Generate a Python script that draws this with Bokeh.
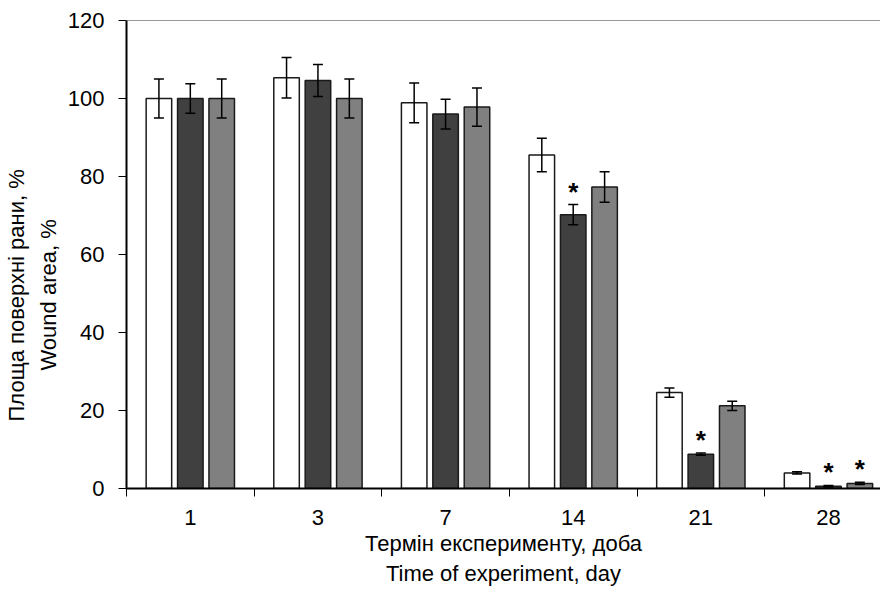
from bokeh.plotting import figure
from bokeh.models import ColumnDataSource, FixedTicker, Whisker, TeeHead, Span, Title
from bokeh.embed import file_html
from bokeh.resources import INLINE
from bokeh.core.properties import value

days = ["1", "3", "7", "14", "21", "28"]
vals_a = [100.0, 105.3, 98.9, 85.5, 24.6, 4.0]
vals_b = [100.0, 104.6, 96.0, 70.2, 8.8, 0.6]
vals_c = [100.0, 100.0, 97.8, 77.3, 21.2, 1.3]
err_a = [5.0, 5.2, 5.1, 4.3, 1.2, 0.3]
err_b = [3.8, 4.1, 3.8, 2.6, 0.3, 0.2]
err_c = [5.0, 5.0, 4.9, 3.9, 1.2, 0.3]
sig_b = [False, False, False, True, True, True]
sig_c = [False, False, False, False, False, True]
yticks = [0, 20, 40, 60, 80, 100, 120]
y_title_1 = "Площа поверхні рани, %"
y_title_2 = "Wound area, %"
x_title = "Термін експерименту, доба\nTime of experiment, day"

FONT = "Liberation Sans"
FS = "22px"
fills = ["#ffffff", "#404040", "#808080"]
offsets = [-0.246, 0.0, 0.246]
n = len(days)
x_end = 768 / 130.0

p = figure(width=880, height=588, output_backend="svg", toolbar_location=None,
           x_range=(0, x_end), y_range=(0, 120),
           min_border_left=126, min_border_right=0, min_border_top=20, min_border_bottom=99)
p.outline_line_color = None
p.grid.visible = False
p.background_fill_color = "white"
p.border_fill_color = "white"

for vals, errs, sig, fill, off in zip([vals_a, vals_b, vals_c], [err_a, err_b, err_c],
                                      [[False]*n, sig_b, sig_c], fills, offsets):
    xs = [i + 0.5 + off for i in range(n)]
    src = ColumnDataSource(dict(x=xs, top=vals,
                                upper=[v + e for v, e in zip(vals, errs)],
                                lower=[v - e for v, e in zip(vals, errs)]))
    p.vbar(x="x", top="top", bottom=0, width=0.2, source=src,
           fill_color=fill, line_color="#1a1a1a", line_width=1.5)
    w = Whisker(source=src, base="x", upper="upper", lower="lower", dimension="height",
                line_color="black", line_width=1.5, level="overlay",
                upper_head=TeeHead(size=10, line_color="black", line_width=1.5),
                lower_head=TeeHead(size=10, line_color="black", line_width=1.5))
    p.add_layout(w)
    sx = [x for x, s in zip(xs, sig) if s]
    sy = [v + e for v, e, s in zip(vals, errs, sig) if s]
    if sx:
        p.text(x=sx, y=sy, text=["*"] * len(sx), text_font=value(FONT),
               text_font_size="26px", text_font_style="bold", text_align="center",
               text_baseline="alphabetic", y_offset=-13, text_color="black")

p.add_layout(Span(location=120, dimension="width", line_color="#333333", line_width=1))

ya = p.yaxis[0]
ya.ticker = FixedTicker(ticks=yticks)
ya.axis_line_width = 2
ya.axis_line_color = "black"
ya.major_tick_in = 0
ya.major_tick_out = 8
ya.major_tick_line_width = 1
ya.minor_tick_line_color = None
ya.major_label_text_font = FONT
ya.major_label_text_font_size = FS
ya.major_label_text_color = "black"
ya.major_label_standoff = 14

for txt, so, off in [(y_title_2, 8, 118), (y_title_1, 1, 67)]:
    p.add_layout(Title(text=txt, align="left", offset=off, standoff=so,
                       text_font=FONT, text_font_size=FS, text_font_style="normal",
                       text_color="black"), "left")

xa = p.xaxis[0]
centers = [i + 0.5 for i in range(n)]
xa.ticker = FixedTicker(ticks=centers, minor_ticks=list(range(n + 1)))
xa.major_label_overrides = {c: d for c, d in zip(centers, days)}
xa.major_tick_in = 0
xa.major_tick_out = 0
xa.minor_tick_in = 0
xa.minor_tick_out = 8
xa.minor_tick_line_color = "black"
xa.minor_tick_line_width = 1
xa.axis_line_width = 2
xa.axis_line_color = "black"
xa.major_label_text_font = FONT
xa.major_label_text_font_size = FS
xa.major_label_text_color = "black"
xa.major_label_standoff = 13
xa.axis_label = x_title
xa.axis_label_text_font = FONT
xa.axis_label_text_font_size = FS
xa.axis_label_text_font_style = "normal"
xa.axis_label_text_color = "black"
xa.axis_label_standoff = 3

open("out.html", "w").write(file_html(p, INLINE))
